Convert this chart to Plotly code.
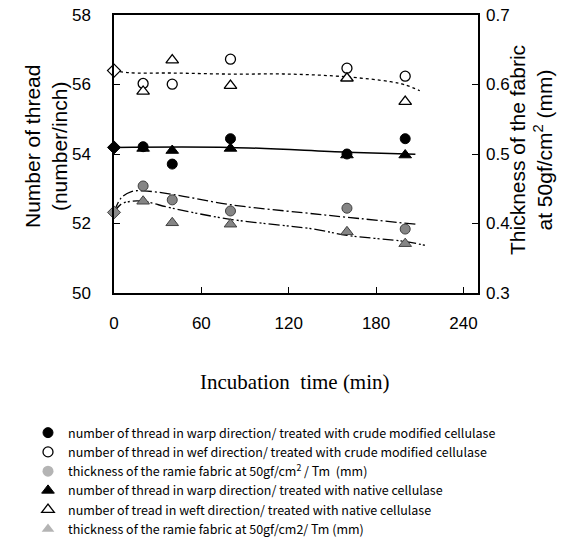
import plotly.graph_objects as go

# ---- data ----
times = [20, 40, 80, 160, 200]
control_time = [0]
warp_crude = [54.21, 53.71, 54.44, 54.00, 54.44]      # filled circle
weft_crude = [56.03, 56.01, 56.73, 56.47, 56.24]      # open circle
thick_crude = [0.454, 0.434, 0.418, 0.422, 0.392]     # grey circle (right axis)
warp_native = [54.16, 54.10, 54.16, 53.97, 53.97]     # filled triangle
weft_native = [55.80, 56.70, 55.97, 56.18, 55.51]     # open triangle
thick_native = [0.432, 0.401, 0.399, 0.388, 0.371]    # grey triangle (right axis)
control_warp = [54.19]
control_weft = [56.40]
control_thick = [0.416]

# trend curves
weft_fit_t = [0, 10, 40, 80, 120, 160, 190, 200, 210]
weft_fit_v = [56.40, 56.34, 56.33, 56.30, 56.30, 56.22, 56.08, 55.99, 55.82]
warp_fit_t = [0, 80, 160, 207]
warp_fit_v = [54.19, 54.19, 54.05, 53.99]
thc_fit_t = [0, 5, 12, 20, 40, 80, 130, 160, 207]
thc_fit_v = [0.416, 0.437, 0.446, 0.447, 0.442, 0.427, 0.4155, 0.409, 0.399]
thn_fit_t = [0, 5, 12, 20, 40, 80, 137, 160, 200, 215]
thn_fit_v = [0.416, 0.428, 0.432, 0.432, 0.422, 0.406, 0.392, 0.383, 0.374, 0.368]

x_ticks = [0, 60, 120, 180, 240]
y_ticks = [50, 52, 54, 56, 58]
y2_ticks = [0.3, 0.4, 0.5, 0.6, 0.7]
y2_labels = ["0.3", "0.4", "0.5", "0.6", "0.7"]

legend_names = [
    "number of thread in warp direction/ treated with crude modified cellulase",
    "number of thread in wef direction/ treated with crude modified cellulase",
    "thickness of the ramie fabric at 50gf/cm<sup>2</sup> / Tm  (mm)",
    "number of thread in warp direction/ treated with native cellulase",
    "number of tread in weft direction/ treated with native cellulase",
    "thickness of the ramie fabric at 50gf/cm2/ Tm (mm)",
]

W, H = 581, 544
L, R, T, B = 114, 478, 15, 293
pw, ph = R - L, B - T

fig = go.Figure()

# trend lines
fig.add_trace(go.Scatter(x=weft_fit_t, y=weft_fit_v, mode="lines", line=dict(color="black", width=1.3, dash="dot", shape="spline"), showlegend=False))
fig.add_trace(go.Scatter(x=warp_fit_t, y=warp_fit_v, mode="lines", line=dict(color="black", width=1.5, shape="spline"), showlegend=False))
fig.add_trace(go.Scatter(x=thc_fit_t, y=thc_fit_v, yaxis="y2", mode="lines", line=dict(color="black", width=1.3, dash="11px,3px,2px,3px", shape="spline"), showlegend=False))
fig.add_trace(go.Scatter(x=thn_fit_t, y=thn_fit_v, yaxis="y2", mode="lines", line=dict(color="black", width=1.3, dash="11px,3px,2px,2px,2px,3px", shape="spline"), showlegend=False))

# control diamonds at t=0
fig.add_trace(go.Scatter(x=control_time, y=control_weft, mode="markers", cliponaxis=False, showlegend=False,
                         marker=dict(symbol="diamond", size=10, color="white", line=dict(color="black", width=1.2))))
fig.add_trace(go.Scatter(x=control_time, y=control_warp, mode="markers", cliponaxis=False, showlegend=False,
                         marker=dict(symbol="diamond", size=10, color="black", line=dict(color="black", width=1))))
fig.add_trace(go.Scatter(x=control_time, y=control_thick, yaxis="y2", mode="markers", cliponaxis=False, showlegend=False,
                         marker=dict(symbol="diamond", size=10, color="#8a8a8a", line=dict(color="#444", width=1))))

grey_plot = dict(color="#858585", line=dict(color="#404040", width=1))

# data markers (legend order)
fig.add_trace(go.Scatter(x=times, y=warp_crude, mode="markers", name=legend_names[0],
                         marker=dict(symbol="circle", size=10, color="black", line=dict(color="black", width=1))))
fig.add_trace(go.Scatter(x=times, y=weft_crude, mode="markers", name=legend_names[1],
                         marker=dict(symbol="circle", size=10, color="white", line=dict(color="black", width=1.3))))
fig.add_trace(go.Scatter(x=times, y=thick_crude, yaxis="y2", mode="markers", showlegend=False,
                         marker=dict(symbol="circle", size=10, **grey_plot)))
fig.add_trace(go.Scatter(x=[None], y=[None], yaxis="y2", mode="markers", name=legend_names[2],
                         marker=dict(symbol="circle", size=11, color="#b4b4b4", line=dict(width=0))))
fig.add_trace(go.Scatter(x=times, y=warp_native, mode="markers", name=legend_names[3],
                         marker=dict(symbol="triangle-up", size=11, color="black", line=dict(color="black", width=1))))
fig.add_trace(go.Scatter(x=times, y=weft_native, mode="markers", name=legend_names[4],
                         marker=dict(symbol="triangle-up", size=11, color="white", line=dict(color="black", width=1.3))))
fig.add_trace(go.Scatter(x=times, y=thick_native, yaxis="y2", mode="markers", showlegend=False,
                         marker=dict(symbol="triangle-up", size=11, **grey_plot)))
fig.add_trace(go.Scatter(x=[None], y=[None], yaxis="y2", mode="markers", name=legend_names[5],
                         marker=dict(symbol="triangle-up", size=11, color="#b4b4b4", line=dict(width=0))))

tickfont = dict(family="Liberation Sans Narrow, Liberation Sans, Arial", size=17, color="black")

fig.update_layout(
    width=W, height=H,
    margin=dict(l=L, r=W - R, t=T, b=H - B, autoexpand=False),
    plot_bgcolor="white", paper_bgcolor="white",
    xaxis=dict(range=[0, 250], tickvals=x_ticks, ticks="inside", ticklen=6, tickcolor="black",
               showline=True, linecolor="black", linewidth=1.5, mirror=True, showgrid=False, zeroline=False,
               tickfont=tickfont, ticklabelstandoff=14),
    yaxis=dict(range=[50, 58], tickvals=y_ticks, ticks="inside", ticklen=6, tickcolor="black",
               showline=True, linecolor="black", linewidth=1.5, mirror=True, showgrid=False, zeroline=False,
               tickfont=tickfont, ticklabelstandoff=18),
    yaxis2=dict(range=[0.3, 0.7], tickvals=y2_ticks, ticktext=y2_labels, overlaying="y", side="right",
                ticks="inside", ticklen=6, tickcolor="black", showline=False, showgrid=False, zeroline=False,
                tickfont=tickfont, ticklabelstandoff=7),
    legend=dict(x=(28 - L) / pw, y=(B - 418) / ph, xanchor="left", yanchor="top",
                font=dict(family="Noto Sans CJK JP, Noto Sans", size=12.5, color="black"),
                bgcolor="rgba(0,0,0,0)", tracegroupgap=0, itemclick=False, itemdoubleclick=False),
    showlegend=True,
)

fig.add_annotation(text="Number of thread<br>(number/inch)", textangle=-90, xref="paper", yref="paper",
                   x=(46 - L) / pw, y=(B - 147) / ph, xanchor="center", yanchor="middle", showarrow=False,
                   font=dict(family="Liberation Sans, Arial", size=21, color="black"))
fig.add_annotation(text="Thickness of the fabric<br>at 50gf/cm<sup>2</sup> (mm)", textangle=-90, xref="paper", yref="paper",
                   x=(531 - L) / pw, y=(B - 150) / ph, xanchor="center", yanchor="middle", showarrow=False,
                   font=dict(family="Liberation Sans, Arial", size=21, color="black"))
fig.add_annotation(text="Incubation  time (min)", xref="paper", yref="paper",
                   x=(295 - L) / pw, y=(B - 382) / ph, xanchor="center", yanchor="middle", showarrow=False,
                   font=dict(family="Liberation Serif, Times New Roman", size=21, color="black"))

fig.write_html("out.html", config={"displayModeBar": False},
               post_script="document.body.style.margin='0px';document.body.style.padding='0px';")
